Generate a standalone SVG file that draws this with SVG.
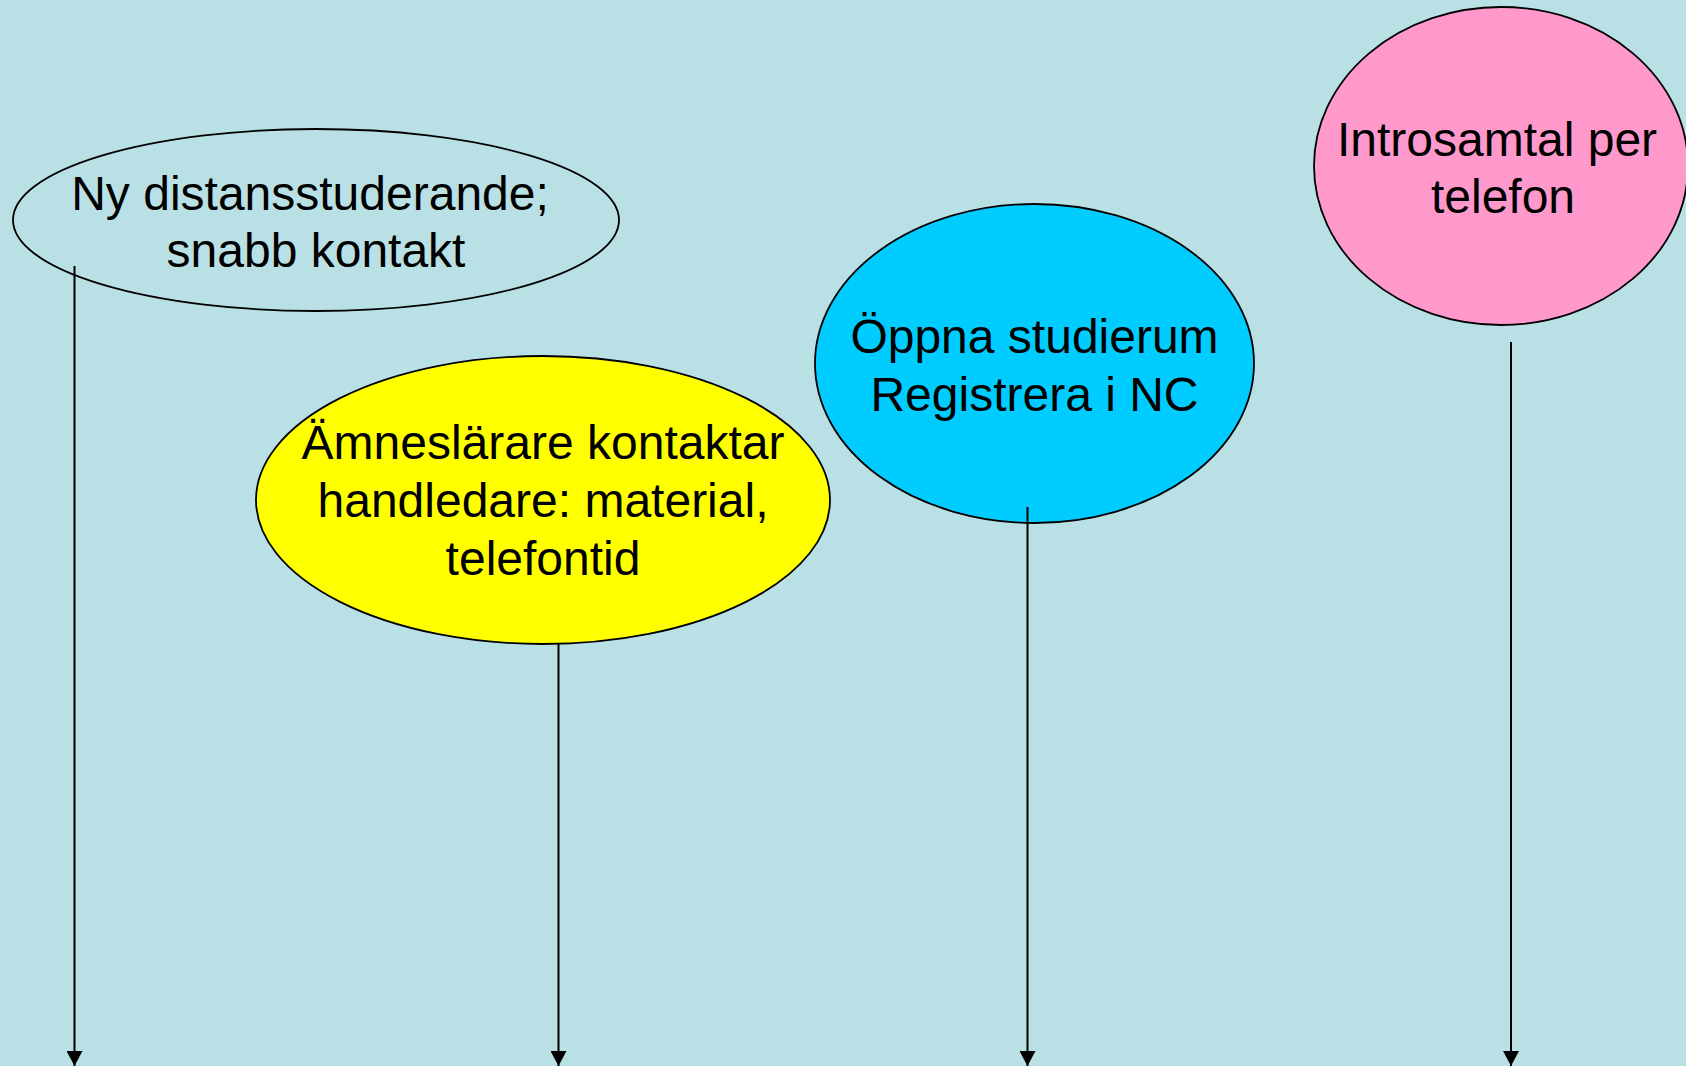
<svg xmlns="http://www.w3.org/2000/svg" width="1686" height="1066" viewBox="0 0 1686 1066">
<defs>
<style>
.node { stroke: #000000; stroke-width: 1.8; }
.lbl { font-family: "Liberation Sans", Arial, sans-serif; font-size: 48px; fill: #000000; text-anchor: middle; }
.conn { stroke: #000000; stroke-width: 2; fill: none; marker-end: url(#arrow); }
</style>
<marker id="arrow" markerUnits="userSpaceOnUse" markerWidth="16" markerHeight="16" refX="15" refY="8" orient="auto">
<path d="M0,0 L15,8 L0,16 Z" fill="#000000"/>
</marker>
</defs>
<rect x="0" y="0" width="1686" height="1066" fill="#B9E0E4"/>
<g id="node-ny">
<ellipse class="node" cx="316" cy="220" rx="303" ry="91" fill="none"/>
<text class="lbl" x="310" y="210">Ny distansstuderande;</text>
<text class="lbl" x="316" y="267">snabb kontakt</text>
</g>
<g id="node-amneslarare">
<ellipse class="node" cx="543" cy="500" rx="287" ry="144" fill="#FFFF00"/>
<text class="lbl" x="543" y="459">Ämneslärare kontaktar</text>
<text class="lbl" x="543" y="517">handledare: material,</text>
<text class="lbl" x="543" y="575">telefontid</text>
</g>
<g id="node-oppna">
<ellipse class="node" cx="1034.5" cy="363.5" rx="219.5" ry="159.5" fill="#00CCFF"/>
<text class="lbl" x="1034.5" y="353">Öppna studierum</text>
<text class="lbl" x="1034.5" y="411">Registrera i NC</text>
</g>
<g id="node-intro">
<ellipse class="node" cx="1501" cy="166" rx="187" ry="159" fill="#FF99CC"/>
<text class="lbl" x="1497" y="156">Introsamtal per</text>
<text class="lbl" x="1503" y="213">telefon</text>
</g>
<g id="connectors">
<line class="conn" x1="74.5" y1="266" x2="74.5" y2="1066"/>
<line class="conn" x1="558.5" y1="643" x2="558.5" y2="1066"/>
<line class="conn" x1="1027.5" y1="507" x2="1027.5" y2="1066"/>
<line class="conn" x1="1511" y1="342" x2="1511" y2="1066"/>
</g>
</svg>
